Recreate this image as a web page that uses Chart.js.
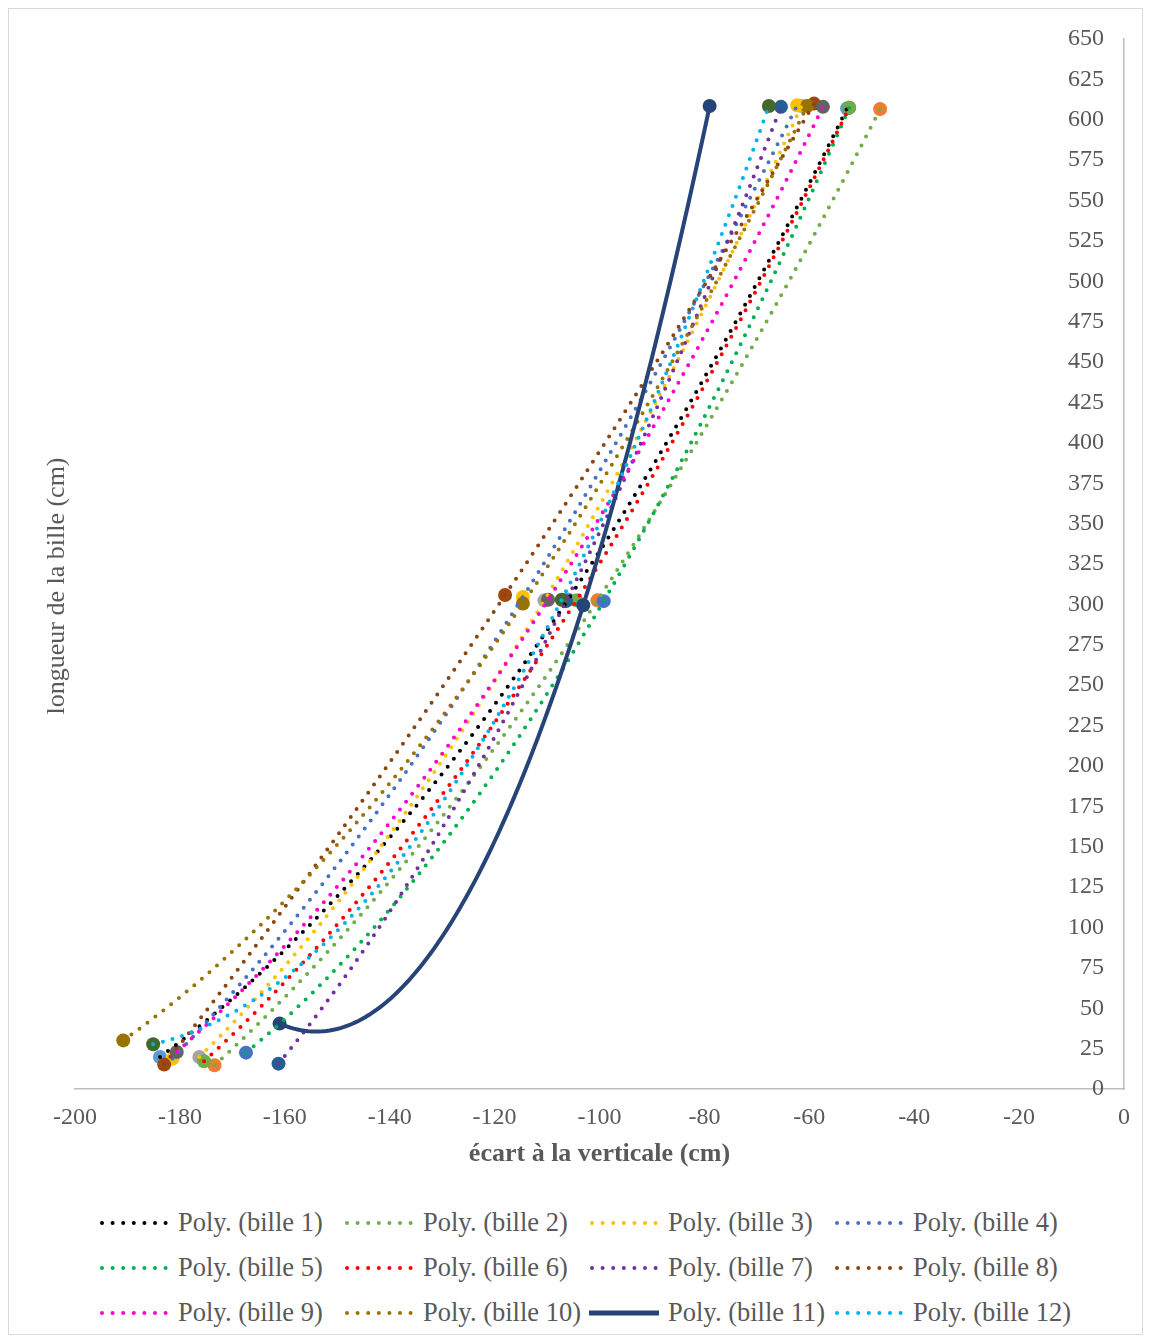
<!DOCTYPE html>
<html>
<head>
<meta charset="utf-8">
<script src="https://cdn.jsdelivr.net/npm/chart.js@4.4.0/dist/chart.umd.min.js"></script>
<style>
  body { margin: 0; background: #fff; font-family: 'Liberation Serif', 'Times New Roman', serif; overflow: hidden; }
  #frame { position: absolute; left: 8px; top: 8px; width: 1133px; height: 1325px; border: 1px solid #d9d9d9; }
  #wrap { position: absolute; left: 0; top: 0; width: 1151px; height: 1180px; }
  #legend { position: absolute; left: 99px; top: 1200px; display: grid; grid-template-columns: repeat(4, 245px); grid-auto-rows: 45px; }
  .item { display: flex; align-items: center; font-size: 26.5px; color: #595959; white-space: nowrap; }
  .item svg { margin-right: 9px; flex: none; }
</style>
</head>
<body>
<div id="frame"></div>
<div id="wrap"><canvas id="chart" width="1151" height="1180"></canvas></div>
<div id="legend"></div>
<script>
// mesures des 12 billes : bas, milieu, haut
const billes = ['bille 1', 'bille 2', 'bille 3', 'bille 4', 'bille 5', 'bille 6',
                'bille 7', 'bille 8', 'bille 9', 'bille 10', 'bille 11', 'bille 12'];
const xBas    = [-183.8, -173.4, -176.3, -181.4, -167.4, -175.4, -161.2, -183.0, -180.6, -190.8, -161.0, -185.1];
const yBas    = [19.8, 14.7, 19.8, 18.8, 22.5, 17.2, 15.7, 15.1, 22.9, 30.1, 40.5, 27.7];
const xMilieu = [-106.0, -100.4, -110.5, -114.6, -99.2, -104.4, -106.4, -118.0, -109.8, -114.6, -103.1, -107.2];
const yMilieu = [303.0, 302.5, 302.5, 304.6, 302.0, 302.5, 302.0, 305.8, 302.9, 300.5, 299.5, 302.9];
const xHaut   = [-52.8, -46.5, -61.5, -62.3, -52.4, -52.4, -65.4, -59.1, -57.4, -60.4, -79.0, -67.7];
const yHaut   = [607.0, 606.6, 608.5, 609.0, 607.5, 607.5, 608.0, 610.0, 608.0, 608.5, 608.5, 608.5];

const xTicks = { min: -200, max: 0, step: 20 };
const yTicks = { min: 0, max: 650, step: 25 };

const markerColors = ['#5B9BD5', '#ED7D31', '#A5A5A5', '#FFC000', '#4472C4', '#70AD47',
                      '#255E91', '#9E480E', '#636363', '#997300', '#264478', '#43682B'];
const trendColors  = ['#000000', '#70AD47', '#FFC000', '#4472C4', '#00B050', '#FF0000',
                      '#7030A0', '#8B4513', '#FF00CC', '#997300', '#264478', '#00B0F0'];

const FONT = "'Liberation Serif', 'Times New Roman', serif";
const GREY = '#595959';
const Y_TITLE = 'longueur de la bille (cm)';

// courbe de tendance polynomiale (ordre 2), moindres carrés comme Excel
function polyFit(xs, ys) {
  const S = [0, 0, 0, 0, 0], T = [0, 0, 0];
  xs.forEach((x, i) => {
    for (let k = 0; k < 5; k++) S[k] += Math.pow(x, k);
    for (let k = 0; k < 3; k++) T[k] += ys[i] * Math.pow(x, k);
  });
  const M = [[S[0], S[1], S[2], T[0]], [S[1], S[2], S[3], T[1]], [S[2], S[3], S[4], T[2]]];
  for (let c = 0; c < 3; c++) {
    let p = c;
    for (let r = c + 1; r < 3; r++) if (Math.abs(M[r][c]) > Math.abs(M[p][c])) p = r;
    [M[c], M[p]] = [M[p], M[c]];
    for (let r = 0; r < 3; r++) {
      if (r === c) continue;
      const f = M[r][c] / M[c][c];
      for (let k = c; k < 4; k++) M[r][k] -= f * M[c][k];
    }
  }
  return [M[0][3] / M[0][0], M[1][3] / M[1][1], M[2][3] / M[2][2]];
}

function trendPoints(xs, ys) {
  const [c0, c1, c2] = polyFit(xs, ys);
  const lo = Math.min(...xs), hi = Math.max(...xs);
  const pts = [];
  const n = 120;
  for (let i = 0; i <= n; i++) {
    const x = lo + (hi - lo) * i / n;
    pts.push({ x: x, y: c0 + c1 * x + c2 * x * x });
  }
  return pts;
}

const datasets = [];
billes.forEach((name, i) => {
  const xs = [xBas[i], xMilieu[i], xHaut[i]];
  const ys = [yBas[i], yMilieu[i], yHaut[i]];
  datasets.push({
    label: name,
    data: xs.map((x, k) => ({ x: x, y: ys[k] })),
    backgroundColor: markerColors[i],
    borderColor: markerColors[i],
    pointRadius: 7,
    pointBorderWidth: 0,
    showLine: false,
    order: 50 + (11 - i)
  });
  const solid = name === 'bille 11';
  datasets.push({
    label: 'Poly. (' + name + ')',
    data: trendPoints(xs, ys),
    borderColor: trendColors[i],
    borderWidth: 4,
    borderDash: solid ? [] : [0, 10],
    borderCapStyle: 'round',
    pointRadius: 0,
    showLine: true,
    fill: false,
    order: 11 - i
  });
});

// titre de l'axe vertical, placé à gauche du graphique
const yTitlePlugin = {
  id: 'yTitle',
  afterDraw(chart) {
    const { ctx, chartArea } = chart;
    ctx.save();
    ctx.translate(chartArea.left - 18, (chartArea.top + chartArea.bottom) / 2 + 22);
    ctx.rotate(-Math.PI / 2);
    ctx.font = '26px ' + FONT;
    ctx.fillStyle = GREY;
    ctx.textAlign = 'center';
    ctx.textBaseline = 'middle';
    ctx.fillText(Y_TITLE, 0, 0);
    ctx.restore();
  }
};

new Chart(document.getElementById('chart'), {
  type: 'scatter',
  data: { datasets: datasets },
  plugins: [yTitlePlugin],
  options: {
    responsive: false,
    animation: false,
    layout: { padding: { left: 75, right: 27, top: 39, bottom: 6 } },
    plugins: { legend: { display: false }, tooltip: { enabled: false } },
    scales: {
      x: {
        type: 'linear',
        position: 'bottom',
        min: xTicks.min, max: xTicks.max,
        ticks: { stepSize: xTicks.step, padding: 14, autoSkip: false, font: { family: FONT, size: 24 }, color: GREY },
        grid: { display: false, drawTicks: false },
        border: { color: '#bfbfbf', width: 1.5 },
        title: { display: true, text: 'écart à la verticale (cm)', color: GREY,
                 font: { family: FONT, size: 26, weight: 'bold' }, padding: { top: -7, bottom: 4 } }
      },
      y: {
        type: 'linear',
        position: 'right',
        min: yTicks.min, max: yTicks.max,
        ticks: { stepSize: yTicks.step, mirror: true, padding: -20, autoSkip: false, font: { family: FONT, size: 24 }, color: GREY },
        grid: { display: false, drawTicks: false },
        border: { color: '#bfbfbf', width: 1.5 }
      }
    }
  }
});

// légende : uniquement les courbes de tendance
const legend = document.getElementById('legend');
billes.forEach((name, i) => {
  const solid = name === 'bille 11';
  const line = solid
    ? '<line x1="0" y1="6" x2="70" y2="6" stroke="' + trendColors[i] + '" stroke-width="5"/>'
    : '<line x1="3" y1="6" x2="67" y2="6" stroke="' + trendColors[i] + '" stroke-width="4" stroke-linecap="round" stroke-dasharray="0 10.6"/>';
  const item = document.createElement('div');
  item.className = 'item';
  item.innerHTML = '<svg width="70" height="12">' + line + '</svg><span>Poly. (' + name + ')</span>';
  legend.appendChild(item);
});
</script>
</body>
</html>
